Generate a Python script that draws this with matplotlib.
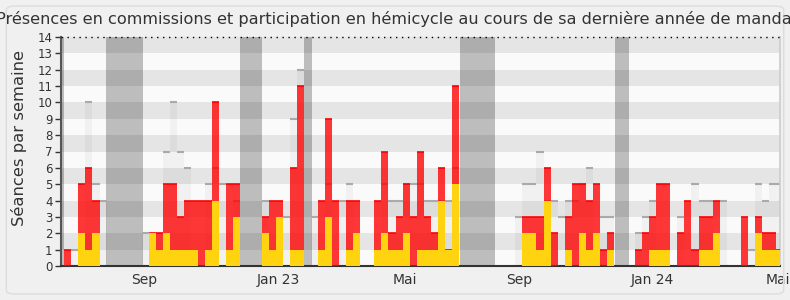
from __future__ import annotations

import matplotlib

matplotlib.use("Agg")

import matplotlib.pyplot as plt
from matplotlib.patches import FancyBboxPatch

TITLE = "Présences en commissions et participation en hémicycle au cours de sa dernière année de mandat"
Y_LABEL = "Séances par semaine"

# one value per week, week 0 = first bar on the left
COMMISSION = [
    1, 0, 5, 6, 4, 0, 0, 0, 0, 0, 0, 0, 2, 2, 5, 5, 3, 4, 4, 4,
    4, 10, 0, 5, 5, 0, 0, 0, 3, 4, 4, 0, 6, 11, 0, 0, 4, 9, 4, 0,
    4, 4, 0, 0, 4, 7, 2, 3, 5, 3, 7, 3, 2, 6, 1, 11, 0, 0, 0, 0,
    0, 0, 0, 0, 0, 3, 3, 3, 6, 2, 0, 3, 5, 5, 4, 5, 1, 2, 0, 0,
    0, 1, 2, 3, 5, 5, 0, 2, 4, 1, 3, 3, 4, 0, 0, 0, 3, 0, 3, 2,
    2, 1,
]
HEMICYCLE = [
    0, 0, 2, 1, 2, 0, 0, 0, 0, 0, 0, 0, 2, 1, 2, 1, 1, 1, 1, 0,
    1, 4, 0, 1, 3, 0, 0, 0, 2, 1, 3, 0, 1, 1, 0, 0, 1, 3, 0, 0,
    1, 2, 0, 0, 1, 2, 1, 1, 2, 0, 1, 1, 1, 4, 1, 5, 0, 0, 0, 0,
    0, 0, 0, 0, 0, 2, 2, 1, 4, 0, 0, 1, 0, 2, 1, 2, 0, 1, 0, 0,
    0, 0, 0, 1, 1, 1, 0, 0, 0, 0, 1, 1, 2, 0, 0, 0, 0, 0, 2, 1,
    1, 1,
]
MEDIANE = [
    0, 1, 0, 10, 5, 4, 0, 0, 0, 0, 0, 2, 0, 0, 7, 10, 7, 6, 0, 0,
    5, 6, 5, 0, 4, 0, 0, 0, 4, 0, 0, 3, 9, 12, 0, 3, 0, 5, 0, 4,
    5, 0, 0, 0, 0, 5, 4, 4, 5, 5, 5, 4, 4, 4, 4, 6, 0, 0, 0, 0,
    0, 0, 0, 0, 3, 5, 5, 7, 4, 4, 3, 4, 4, 5, 6, 0, 3, 3, 0, 0,
    0, 2, 3, 4, 0, 0, 0, 3, 0, 5, 4, 4, 0, 4, 0, 0, 0, 1, 5, 4,
    5, 5,
]
VACANCES = [(-0.47, 0.0), (5.95, 11.15), (25.0, 28.0), (34.05, 35.1), (56.1, 61.1), (78.1, 80.1)]

TICK_WEEKS = [11.31, 30.33, 48.35, 64.5, 83.4, 101.3]
TICK_LABELS = ["Sep", "Jan 23", "Mai", "Sep", "Jan 24", "Mai"]

X_MIN, X_MAX = -0.47, 101.56
Y_MAX = 14

BG = "#f0f0f0"
TEXT = "#333333"


def draw_background(ax) -> None:
    ax.set_facecolor("#fafafa")
    for v in range(1, Y_MAX, 2):
        ax.axhspan(v, v + 1, color="#e5e5e5", lw=0, zorder=0)
    for start, end in VACANCES:
        ax.axvspan(start, end, color="black", alpha=0.245, lw=0, zorder=1)
    ax.axhline(Y_MAX, color="black", lw=1, linestyle=(0, (1, 3.3)), zorder=6, clip_on=False)


def draw_bars(ax) -> None:
    weeks = list(range(len(COMMISSION)))

    ax.bar(weeks, MEDIANE, width=1, align="edge", color="black", alpha=0.035, lw=0, zorder=2)
    ax.hlines(
        [m for m in MEDIANE if m > 0],
        [w for w, m in zip(weeks, MEDIANE) if m > 0],
        [w + 1 for w, m in zip(weeks, MEDIANE) if m > 0],
        color="#aaaaaa", lw=1.5, zorder=2,
    )

    ax.bar(weeks, COMMISSION, width=1, align="edge", color="#ff0000", alpha=0.78, lw=0, zorder=3)
    ax.hlines(
        [c for c in COMMISSION if c > 0],
        [w for w, c in zip(weeks, COMMISSION) if c > 0],
        [w + 1 for w, c in zip(weeks, COMMISSION) if c > 0],
        color="#ff0000", lw=1.2, zorder=3,
    )

    ax.bar(weeks, HEMICYCLE, width=1, align="edge", color="#ffd30f", lw=0, zorder=4)


def style_axes(ax) -> None:
    ax.set_xlim(X_MIN, X_MAX)
    ax.set_ylim(0, Y_MAX)

    ax.set_yticks(range(0, Y_MAX + 1))
    ax.tick_params(axis="y", labelsize=8.5, colors=TEXT, length=4, width=1, pad=2)
    ax.set_xticks(TICK_WEEKS)
    ax.set_xticklabels(TICK_LABELS)
    ax.tick_params(axis="x", labelsize=10, colors=TEXT, length=0, pad=5)

    ax.spines["top"].set_visible(False)
    ax.spines["left"].set_color("#555555")
    ax.spines["left"].set_linewidth(1.5)
    ax.spines["bottom"].set_color("#333333")
    ax.spines["bottom"].set_linewidth(1.5)
    ax.spines["right"].set_color("#cccccc")
    ax.spines["right"].set_linewidth(1.2)


def main() -> None:
    plt.rcParams["font.family"] = ["DejaVu Sans"]

    fig = plt.figure(figsize=(7.9, 3.0), dpi=100, facecolor=BG)
    fig.patches.append(
        FancyBboxPatch(
            (0.008, 0.02), 0.984, 0.96,
            boxstyle="round,pad=0,rounding_size=0.012",
            transform=fig.transFigure, facecolor="none", edgecolor="#dddddd", lw=1,
        )
    )

    ax = fig.add_axes([61 / 790, 1 - 266 / 300, (780 - 61) / 790, (266 - 37) / 300])

    draw_background(ax)
    draw_bars(ax)
    style_axes(ax)

    fig.text(0.5 + 2 / 790, 1 - 19 / 300, TITLE, ha="center", va="center", fontsize=11.65, color=TEXT)
    fig.text(19 / 790, 1 - 138 / 300, Y_LABEL, rotation=90, ha="center", va="center",
             fontsize=11.8, color=TEXT)

    fig.savefig("out.png", dpi=100, facecolor=BG)
    plt.close(fig)


if __name__ == "__main__":
    main()
